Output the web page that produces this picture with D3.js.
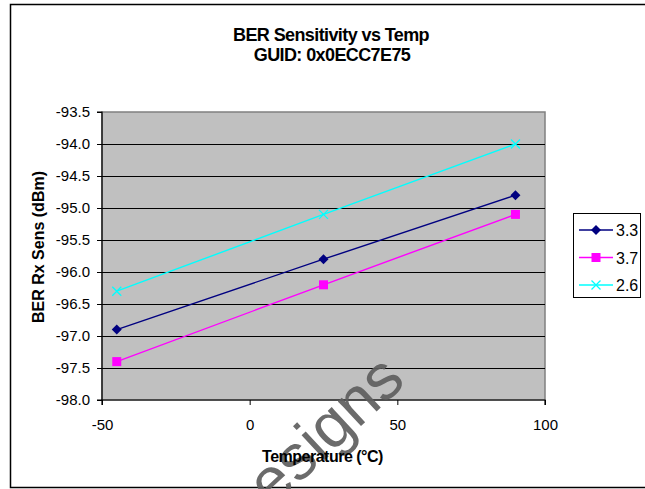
<!DOCTYPE html>
<html>
<head>
<meta charset="utf-8">
<script src="https://cdn.jsdelivr.net/npm/d3@7"></script>
<style>
  body { margin: 0; background: #fff; }
  text { font-family: "Liberation Sans", Arial, sans-serif; }
</style>
</head>
<body>
<script>
// chart data
var temps = [-45, 25, 90];
var seriesNames = ["3.3", "3.7", "2.6"];
var v33 = [-96.9, -95.8, -94.8];
var v37 = [-97.4, -96.2, -95.1];
var v26 = [-96.3, -95.1, -94.0];
var xTicks = [-50, 0, 50, 100];
var yTicks = [-98, -97.5, -97, -96.5, -96, -95.5, -95, -94.5, -94, -93.5];

var width = 645, height = 489;
var plotL = 102, plotR = 545, plotT = 112, plotB = 400;

var svg = d3.select("body")
    .append("svg")
    .attr("width", width)
    .attr("height", height);

svg.append("rect").attr("width", width).attr("height", height).attr("fill", "#fff");

// outer frame (right side runs off the picture)
svg.append("rect")
    .attr("x", 10.5).attr("y", 4.5)
    .attr("width", 700).attr("height", 483)
    .attr("fill", "none").attr("stroke", "#000").attr("stroke-width", 1.5);

var xScale = d3.scaleLinear().domain([-50, 100]).range([plotL, plotR]);
var yScale = d3.scaleLinear().domain([-98, -93.5]).range([plotB, plotT]);

// plot area
svg.append("rect")
    .attr("x", plotL).attr("y", plotT)
    .attr("width", plotR - plotL).attr("height", plotB - plotT)
    .attr("fill", "#c0c0c0").attr("stroke", "#808080").attr("stroke-width", 1.5);

// gridlines
svg.selectAll(".grid")
    .data(yTicks.filter(function(d) { return d > -98 && d < -93.5; }))
    .enter()
    .append("line")
    .attr("class", "grid")
    .attr("x1", plotL).attr("x2", plotR)
    .attr("y1", function(d) { return Math.round(yScale(d)) + 0.5; })
    .attr("y2", function(d) { return Math.round(yScale(d)) + 0.5; })
    .attr("stroke", "#000").attr("stroke-width", 1);

// axes (plain hyphen for minus like the original)
var xAxis = d3.axisBottom(xScale).tickValues(xTicks).tickSize(5).tickPadding(14)
    .tickFormat(function(d) { return String(d); });
var yAxis = d3.axisLeft(yScale).tickValues(yTicks).tickSize(5).tickPadding(7)
    .tickFormat(function(d) { return d.toFixed(1); });

var gx = svg.append("g")
    .attr("transform", "translate(0," + plotB + ")")
    .call(xAxis);
var gy = svg.append("g")
    .attr("transform", "translate(" + plotL + ",0)")
    .call(yAxis);

[gx, gy].forEach(function(g) {
    g.select(".domain").attr("stroke", "#000").attr("stroke-width", 1.2);
    g.selectAll(".tick line").attr("stroke", "#000");
    g.selectAll(".tick text")
        .attr("fill", "#000")
        .style("font-size", "15px")
        .style("font-family", "'Liberation Sans', Arial, sans-serif");
});
gx.select(".domain").attr("d", "M" + plotL + ",5V0H" + plotR + "V5");
gy.select(".domain").attr("d", "M-5," + plotT + "H0V" + plotB + "H-5");

// watermark
svg.append("text")
    .attr("transform", "translate(272,509) rotate(-43)")
    .attr("fill", "#5e5e5e")
    .attr("fill-opacity", 0.92)
    .style("font-size", "64px")
    .text("esigns");

// series
var series = [
    { name: seriesNames[0], values: v33, color: "#000080", marker: "diamond" },
    { name: seriesNames[1], values: v37, color: "#ff00ff", marker: "square" },
    { name: seriesNames[2], values: v26, color: "#00ffff", marker: "cross" }
];

var line = d3.line()
    .x(function(d, i) { return xScale(temps[i]); })
    .y(function(d) { return yScale(d); });

function drawMarker(g, type, color) {
    if (type === "diamond") {
        g.append("path").attr("d", "M0,-5L5,0L0,5L-5,0Z").attr("fill", color);
    } else if (type === "square") {
        g.append("rect").attr("x", -4.5).attr("y", -4.5).attr("width", 9).attr("height", 9)
            .attr("fill", color);
    } else {
        g.append("path").attr("d", "M-4.5,-4.5L4.5,4.5M-4.5,4.5L4.5,-4.5")
            .attr("stroke", color).attr("stroke-width", 1.3).attr("fill", "none");
    }
}

series.forEach(function(s) {
    svg.append("path")
        .datum(s.values)
        .attr("d", line)
        .attr("fill", "none")
        .attr("stroke", s.color)
        .attr("stroke-width", 1.4);
    s.values.forEach(function(v, i) {
        var g = svg.append("g")
            .attr("transform", "translate(" + xScale(temps[i]) + "," + yScale(v) + ")");
        drawMarker(g, s.marker, s.color);
    });
});

// titles
svg.append("text")
    .attr("x", 331).attr("y", 40.5)
    .attr("text-anchor", "middle")
    .style("font-size", "18px").style("font-weight", "bold").style("letter-spacing", "-0.6px")
    .text("BER Sensitivity vs Temp");
svg.append("text")
    .attr("x", 332).attr("y", 60.5)
    .attr("text-anchor", "middle")
    .style("font-size", "18px").style("font-weight", "bold").style("letter-spacing", "-0.6px")
    .text("GUID: 0x0ECC7E75");

svg.append("text")
    .attr("x", 322.5).attr("y", 461.5)
    .attr("text-anchor", "middle")
    .style("font-size", "16px").style("font-weight", "bold").style("letter-spacing", "-0.5px")
    .text("Temperature (°C)");

svg.append("text")
    .attr("transform", "translate(44,247) rotate(-90)")
    .attr("text-anchor", "middle")
    .style("font-size", "16px").style("font-weight", "bold")
    .text("BER Rx Sens (dBm)");

// legend
var legend = svg.append("g");
legend.append("rect")
    .attr("x", 573.5).attr("y", 213.5)
    .attr("width", 67).attr("height", 84)
    .attr("fill", "#fff").attr("stroke", "#000").attr("stroke-width", 1);

var legendY = d3.scalePoint().domain(seriesNames).range([230, 285]);

series.forEach(function(s) {
    var y = legendY(s.name);
    legend.append("line")
        .attr("x1", 579).attr("x2", 613)
        .attr("y1", y).attr("y2", y)
        .attr("stroke", s.color).attr("stroke-width", 1.4);
    var g = legend.append("g").attr("transform", "translate(596," + y + ")");
    drawMarker(g, s.marker, s.color);
    legend.append("text")
        .attr("x", 616).attr("y", y + 6)
        .style("font-size", "16px")
        .text(s.name);
});
</script>
</body>
</html>
